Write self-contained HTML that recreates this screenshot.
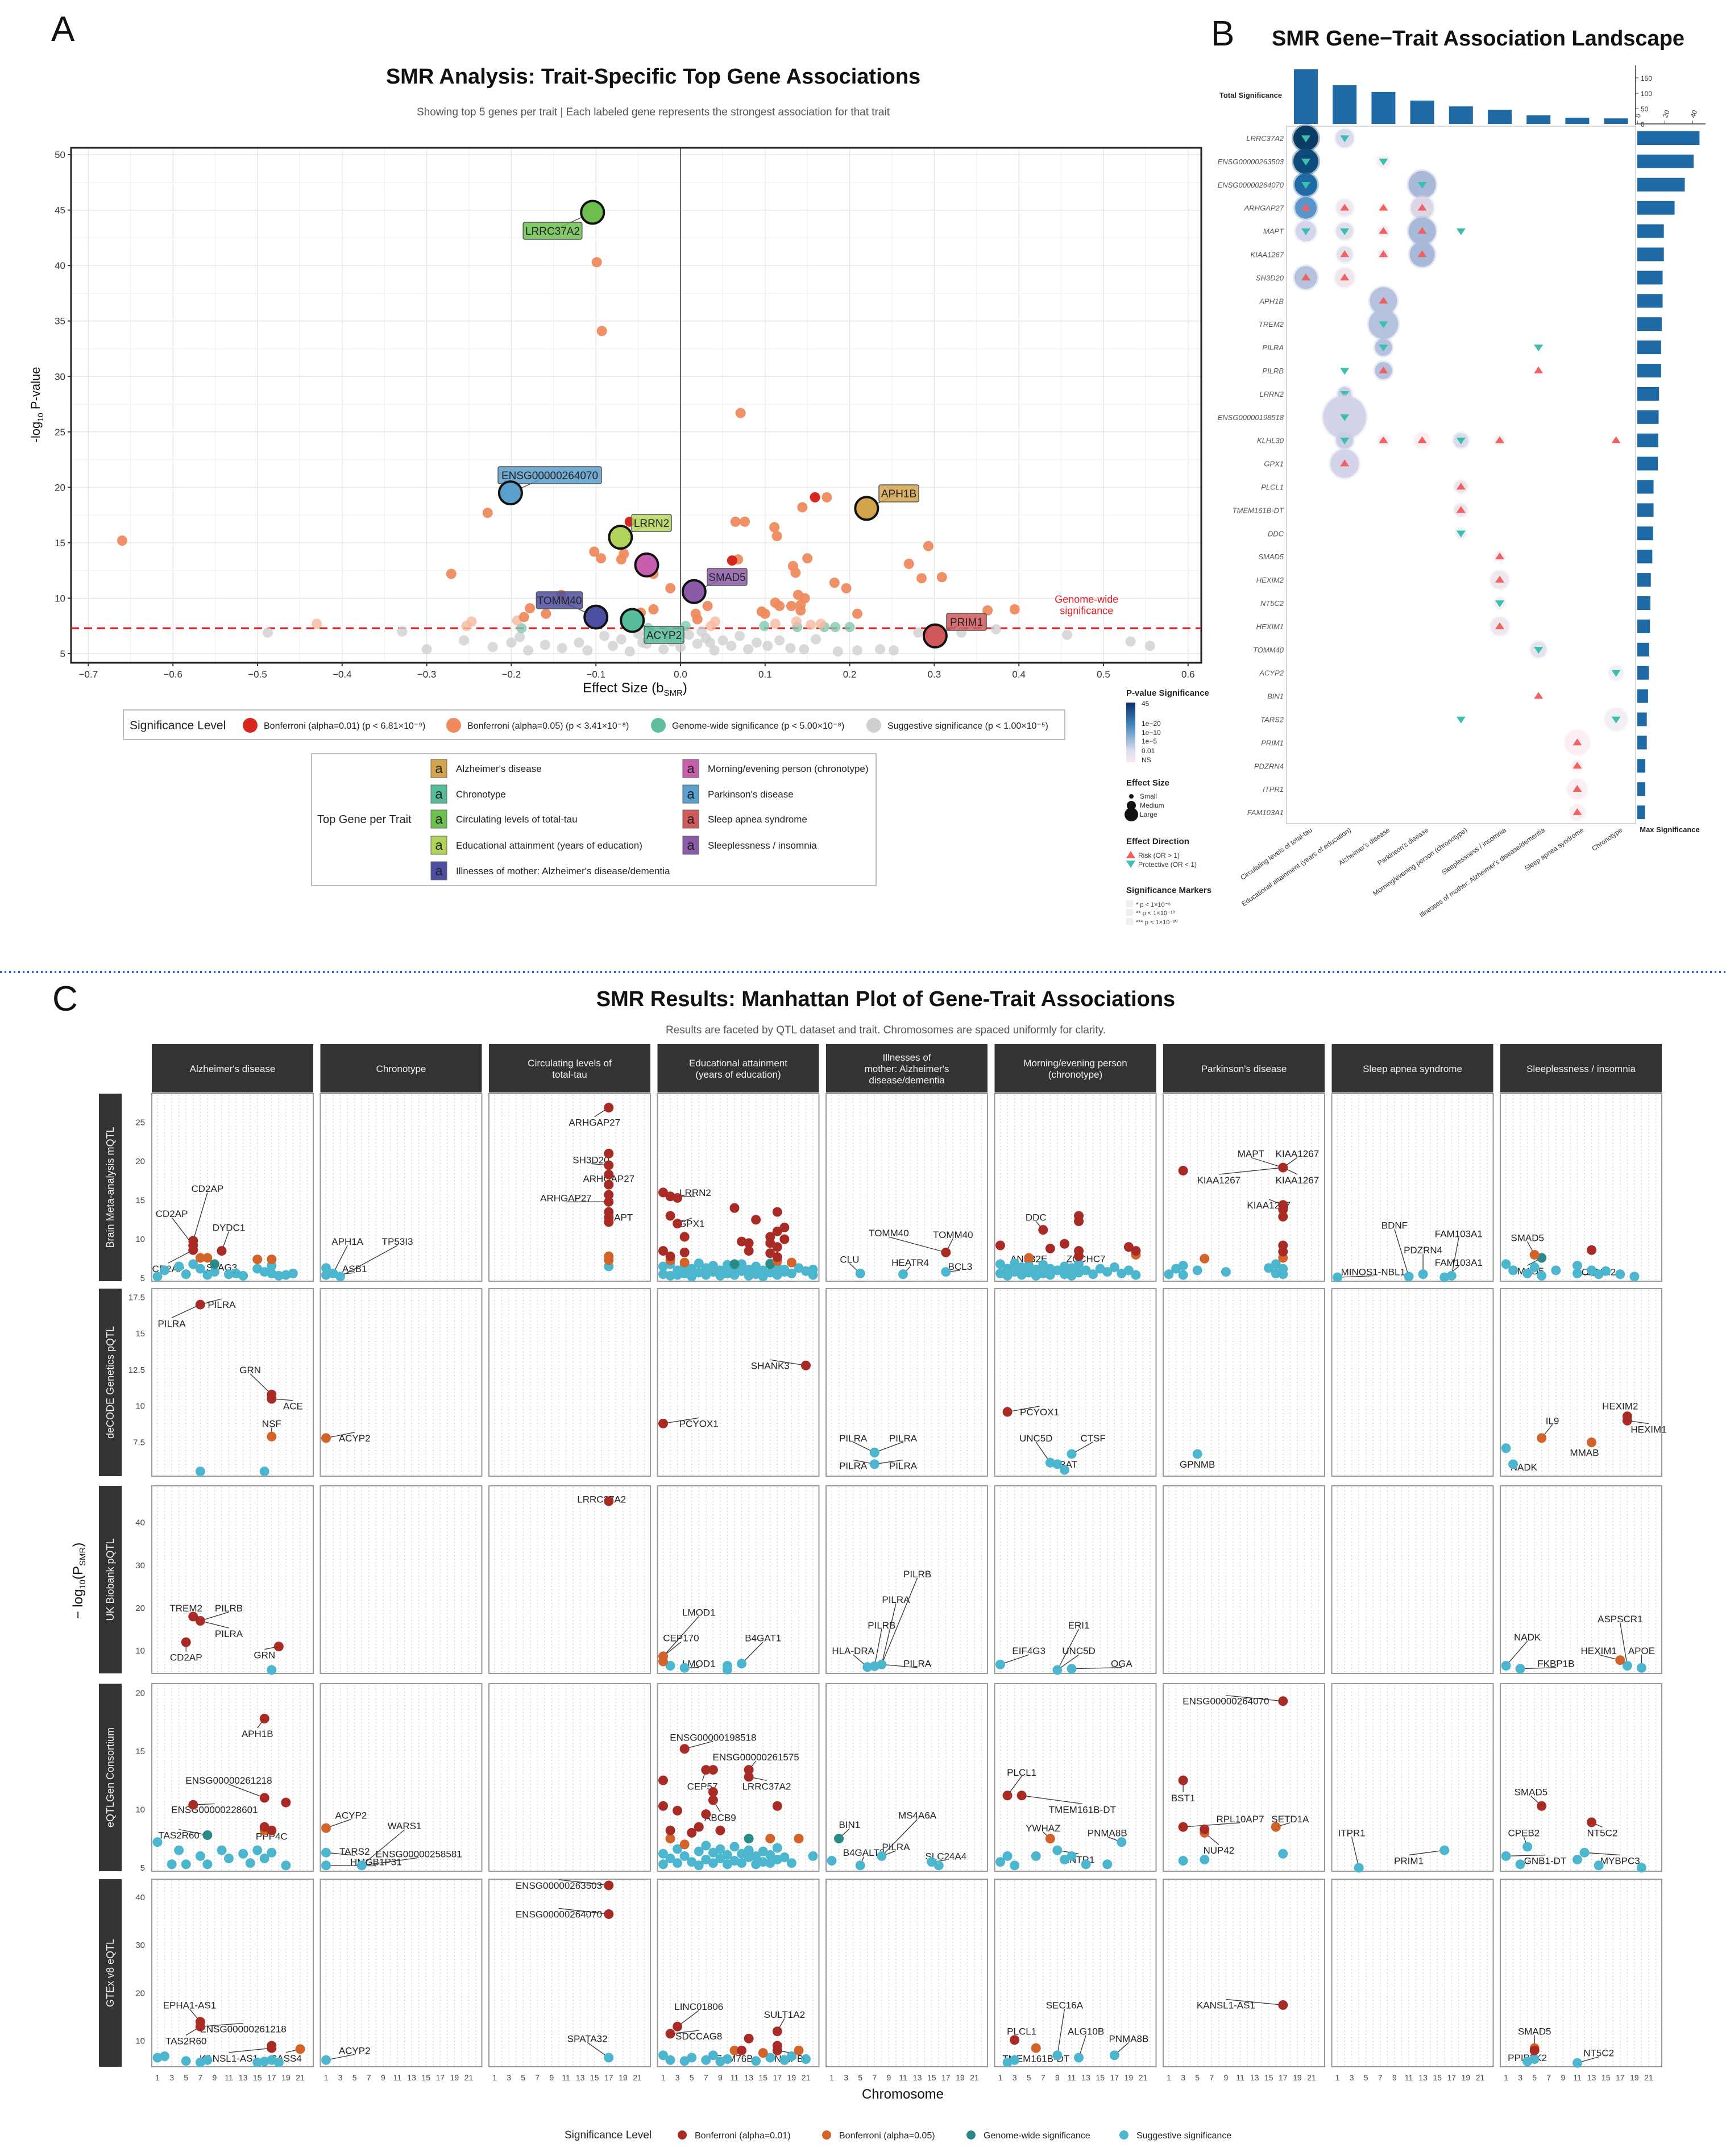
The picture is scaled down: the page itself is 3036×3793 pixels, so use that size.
<!DOCTYPE html>
<html><head><meta charset="utf-8"><title>SMR figure</title>
<style>
html,body{margin:0;padding:0;background:#fff;}
svg{display:block;font-family:"Liberation Sans",Arial,sans-serif;}
</style></head>
<body>
<svg id="chart" xmlns="http://www.w3.org/2000/svg" width="3036" height="3793" viewBox="0 0 3036 3793"></svg>
<script>
// ================= DATA =================
const volcanoPoints = [
[-0.66,15.2,1],[-0.099,40.3,1],[-0.093,34.1,1],[0.071,26.7,1],[-0.228,17.7,1],
[0.159,19.1,0],[0.173,19.1,1],[0.144,18.2,1],[0.065,16.9,1],[0.076,16.9,1],
[0.111,16.4,1],[0.114,15.6,1],[-0.06,16.9,0],[-0.271,12.2,1],[-0.102,14.2,1],
[-0.094,13.6,1],[-0.067,14.0,1],[-0.07,13.5,1],[0.061,13.4,0],[0.068,13.5,1],
[0.133,12.9,1],[0.136,12.3,1],[0.150,13.6,1],[0.293,14.7,1],[0.27,13.1,1],
[0.285,11.8,1],[0.309,11.9,1],[0.182,11.4,1],[0.196,10.9,1],[-0.012,10.9,1],
[-0.032,12.2,1],[0.139,10.3,1],[0.147,10.0,1],[0.112,9.6,1],[0.117,9.3,1],
[0.131,9.3,1],[0.142,9.4,1],[0.142,8.9,1],[0.096,8.8,1],[0.1,8.6,1],
[0.209,8.6,1],[0.363,8.9,1],[0.395,9.0,1],[0.032,9.3,1],[0.018,8.6,1],
[0.02,8.1,1],[-0.032,9.0,1],[-0.047,8.7,1],[-0.141,10.3,1],[-0.178,9.1,1],
[-0.159,8.6,1],[-0.185,8.3,1],[-0.193,8.0,4],[-0.247,7.9,4],[-0.253,7.5,4],
[-0.43,7.7,4],[0.041,7.9,4],[0.036,7.5,4],[0.112,7.7,4],[0.137,7.9,4],
[0.154,7.6,4],[0.166,7.7,4],
[-0.188,7.3,2],[0.099,7.5,2],[0.138,7.4,2],[0.17,7.4,2],[0.183,7.4,2],[0.2,7.4,2],[0.006,7.5,2],[-0.038,7.3,2],
[-0.488,6.9,3],[-0.329,7.0,3],[-0.3,5.4,3],[-0.256,6.2,3],[-0.222,5.6,3],[-0.2,6.0,3],[-0.19,6.5,3],
[-0.18,5.3,3],[-0.16,5.8,3],[-0.14,5.5,3],[-0.12,6.0,3],[-0.11,5.3,3],[-0.09,6.6,3],[-0.08,5.7,3],
[-0.07,6.3,3],[-0.06,5.2,3],[-0.05,6.8,3],[-0.04,5.9,3],[-0.03,6.4,3],[-0.02,5.4,3],[-0.01,6.1,3],
[0.0,5.6,3],[0.01,6.7,3],[0.02,5.9,3],[0.03,6.4,3],[0.04,5.3,3],[0.05,6.2,3],[0.06,5.7,3],
[0.07,6.6,3],[0.08,5.4,3],[0.09,6.0,3],[0.103,5.7,3],[0.117,6.2,3],[0.13,5.5,3],[0.146,5.4,3],
[0.16,6.3,3],[0.186,5.2,3],[0.209,5.3,3],[0.236,5.4,3],[0.252,5.3,3],[0.281,6.9,3],[0.332,6.9,3],
[0.373,7.2,3],[0.457,6.7,3],[0.532,6.1,3],[0.555,5.7,3],[-0.015,6.9,3],[0.025,7.0,3],[0.035,6.0,3],[-0.045,6.0,3]
];
const topGeneNames = ['LRRC37A2','ENSG00000264070','LRRN2','','SMAD5','TOMM40','ACYP2','APH1B','PRIM1'];
const topGeneEffect = [-0.104,-0.201,-0.071,-0.040,0.016,-0.100,-0.057,0.220,0.301];
const topGeneLogP = [44.8,19.5,15.5,13.0,10.6,8.3,8.0,18.1,6.6];
const topGeneColor = ['#6dbf4f','#5b9fcd','#b1d35a','#c85fae','#8c5aa8','#4c4fa1','#56bc9c','#d3a44e','#d0585a'];
const topGeneLabelPos = [[972,406],[967,836],[1146,920],null,[1279,1015],[984,1056],[1168,1117],[1581,868],[1700,1094]];
const xTicksA = [-0.7,-0.6,-0.5,-0.4,-0.3,-0.2,-0.1,0.0,0.1,0.2,0.3,0.4,0.5,0.6];
const yTicksA = [5,10,15,20,25,30,35,40,45,50];

const traitNamesB = ['Circulating levels of total-tau','Educational attainment (years of education)','Alzheimer\'s disease','Parkinson\'s disease','Morning/evening person (chronotype)','Sleeplessness / insomnia','Illnesses of mother: Alzheimer\'s disease/dementia','Sleep apnea syndrome','Chronotype'];
const totalSig = [178,126,104,76,57,46,28,20,18];
const geneNamesB = ['LRRC37A2','ENSG00000263503','ENSG00000264070','ARHGAP27','MAPT','KIAA1267','SH3D20','APH1B','TREM2','PILRA','PILRB','LRRN2','ENSG00000198518','KLHL30','GPX1','PLCL1','TMEM161B-DT','DDC','SMAD5','HEXIM2','NT5C2','HEXIM1','TOMM40','ACYP2','BIN1','TARS2','PRIM1','PDZRN4','ITPR1','FAM103A1'];
const maxSig = [45.2,40.9,34.5,27.1,19.3,19.3,18.4,18.4,17.8,17.3,17.3,15.8,15.5,15.2,14.9,11.8,11.8,11.5,10.9,9.8,9.5,9.2,8.6,8.3,7.8,6.9,6.9,5.8,5.8,5.5];
const cellsB = [
[0,0,22,'#0b3c66',-1],[0,1,16,'#d8dcec',-1],
[1,0,22,'#0e4a7a',-1],[1,2,11,'#f3eef3',-1],
[2,0,20,'#1f6aa5',-1],[2,3,24,'#a9b9d9',-1],
[3,0,19,'#5b94c9',1],[3,1,15,'#efe6ee',1],[3,2,8,'#fdf6f8',1],[3,3,20,'#dcd6e6',1],
[4,0,18,'#d3d6ea',-1],[4,1,15,'#dfe0ec',-1],[4,2,10,'#f6eef3',1],[4,3,24,'#a9b9d9',1],[4,4,0,'none',-1],
[5,1,14,'#e3e3ee',1],[5,2,9,'#f6eef3',1],[5,3,22,'#a9b9d9',1],
[6,0,20,'#b4c2de',1],[6,1,17,'#efe6ee',1],
[7,2,24,'#b4c2de',1],[8,2,26,'#b4c2de',-1],
[9,2,15,'#b4c2de',-1],[9,6,0,'none',-1],
[10,1,0,'none',-1],[10,2,15,'#b4c2de',1],[10,6,0,'none',1],
[11,1,12,'#c8cfe4',-1],[12,1,38,'#d3d4e9',-1],
[13,1,15,'#c8cfe4',-1],[13,2,10,'#f6eef3',1],[13,3,14,'#fbeff3',1],[13,4,13,'#d8dcec',-1],[13,5,9,'#f6eef3',1],[13,8,0,'none',1],
[14,1,25,'#d3d4e9',1],[15,4,11,'#ece3ee',1],[16,4,11,'#ece3ee',1],[17,4,10,'#eef0f5',-1],
[18,5,9,'#f6eef3',1],[19,5,16,'#efe6ee',1],[20,5,10,'#eef0f5',-1],[21,5,16,'#efe6ee',1],
[22,6,14,'#e3e3ee',-1],[23,8,13,'#eef0f5',-1],[24,6,0,'none',1],
[25,4,0,'none',-1],[25,8,20,'#f3eef3',-1],
[26,7,22,'#fbeef2',1],[27,7,10,'#fbeef2',1],[28,7,18,'#fbeef2',1],[29,7,14,'#fbeef2',1]
];

const facetTraits = ['Alzheimer\'s disease','Chronotype','Circulating levels of|total-tau','Educational attainment|(years of education)','Illnesses of|mother: Alzheimer\'s|disease/dementia','Morning/evening person|(chronotype)','Parkinson\'s disease','Sleep apnea syndrome','Sleeplessness / insomnia'];
const facetDatasets = ['Brain Meta-analysis mQTL','deCODE Genetics pQTL','UK Biobank pQTL','eQTLGen Consortium','GTEx v8 eQTL'];
const facetYDomain = [[4.6,28.7],[5.17,18.1],[4.7,48.6],[4.7,20.8],[4.6,43.8]];
const facetYTicks = [[5,10,15,20,25],[7.5,10,12.5,15,17.5],[10,20,30,40],[5,10,15,20],[10,20,30,40]];
const chromTicks = [1,3,5,7,9,11,13,15,17,19,21];
const facetPoints = [
[0,0,6,9.8,0],[0,0,6,9.2,0],[0,0,6,8.6,0],[0,0,10,8.5,0],[0,0,7,7.6,1],[0,0,8,7.6,1],[0,0,15,7.4,1],[0,0,17,7.4,1],[0,0,9,6.8,2],
[0,0,1,5.2,3],[0,0,2,6.0,3],[0,0,4,6.5,3],[0,0,5,5.5,3],[0,0,6,6.8,3],[0,0,7,6.2,3],[0,0,8,5.4,3],[0,0,9,5.8,3],[0,0,11,5.5,3],[0,0,12,5.6,3],[0,0,13,5.3,3],[0,0,15,6.2,3],[0,0,16,5.8,3],[0,0,17,6.6,3],[0,0,17,5.6,3],[0,0,18,5.3,3],[0,0,19,5.4,3],[0,0,20,5.6,3],
[0,1,1,6.3,3],[0,1,1,5.4,3],[0,1,2,5.6,3],[0,1,3,5.2,3],
[0,2,17,26.9,0],[0,2,17,21.0,0],[0,2,17,19.5,0],[0,2,17,18.3,0],[0,2,17,17.0,0],[0,2,17,15.7,0],[0,2,17,14.8,0],[0,2,17,13.5,0],[0,2,17,12.8,0],[0,2,17,12.2,0],[0,2,17,7.8,1],[0,2,17,7.3,1],[0,2,17,6.5,3],
[0,3,1,16.0,0],[0,3,2,15.5,0],[0,3,3,15.3,0],[0,3,2,13.0,0],[0,3,3,12.0,0],[0,3,4,10.3,0],[0,3,11,14.0,0],[0,3,14,12.5,0],[0,3,16,10.3,0],[0,3,16,9.5,0],[0,3,17,13.5,0],[0,3,18,11.5,0],[0,3,17,11.0,0],[0,3,18,10.0,0],[0,3,17,9.0,0],[0,3,1,8.5,0],[0,3,2,7.8,0],[0,3,4,8.3,0],[0,3,12,9.7,0],[0,3,13,9.5,0],[0,3,13,8.5,0],[0,3,16,8.2,0],[0,3,17,7.7,0],
[0,3,2,7.3,1],[0,3,4,7.0,1],[0,3,17,7.2,1],[0,3,19,7.0,1],[0,3,11,6.8,2],[0,3,16,6.8,2],
[0,3,1,6.5,3],[0,3,1,5.5,3],[0,3,2,6.8,3],[0,3,2,5.3,3],[0,3,3,6.0,3],[0,3,3,5.4,3],[0,3,4,6.6,3],[0,3,4,5.6,3],[0,3,5,6.2,3],[0,3,5,5.2,3],[0,3,6,6.9,3],[0,3,6,5.7,3],[0,3,7,6.3,3],[0,3,7,5.4,3],[0,3,8,6.6,3],[0,3,8,5.8,3],[0,3,9,6.0,3],[0,3,9,5.3,3],[0,3,10,6.7,3],[0,3,10,5.6,3],[0,3,11,6.2,3],[0,3,11,5.4,3],[0,3,12,6.8,3],[0,3,12,5.9,3],[0,3,13,6.1,3],[0,3,13,5.3,3],[0,3,14,6.5,3],[0,3,14,5.5,3],[0,3,15,6.0,3],[0,3,15,5.2,3],[0,3,16,6.9,3],[0,3,16,5.7,3],[0,3,17,6.4,3],[0,3,17,5.4,3],[0,3,18,6.1,3],[0,3,18,5.8,3],[0,3,19,5.6,3],[0,3,20,6.3,3],[0,3,21,5.9,3],[0,3,22,6.1,3],[0,3,22,5.4,3],
[0,4,17,8.3,0],[0,4,5,5.6,3],[0,4,11,5.5,3],[0,4,17,5.8,3],
[0,5,1,9.2,0],[0,5,8,8.8,0],[0,5,7,11.2,0],[0,5,12,13.0,0],[0,5,12,12.3,0],[0,5,10,9.4,0],[0,5,12,7.8,0],[0,5,12,8.5,0],[0,5,19,9.0,0],[0,5,20,8.5,0],[0,5,20,8.0,1],[0,5,5,7.6,1],
[0,5,1,6.8,3],[0,5,1,5.6,3],[0,5,2,6.2,3],[0,5,2,5.3,3],[0,5,3,6.9,3],[0,5,3,5.8,3],[0,5,4,6.4,3],[0,5,4,5.4,3],[0,5,5,6.6,3],[0,5,5,5.7,3],[0,5,6,6.1,3],[0,5,6,5.3,3],[0,5,7,6.7,3],[0,5,7,5.6,3],[0,5,8,6.2,3],[0,5,8,5.4,3],[0,5,9,6.0,3],[0,5,10,6.5,3],[0,5,10,5.5,3],[0,5,11,6.3,3],[0,5,11,5.3,3],[0,5,12,6.8,3],[0,5,12,5.7,3],[0,5,13,6.0,3],[0,5,14,5.5,3],[0,5,15,6.2,3],[0,5,16,5.8,3],[0,5,17,6.4,3],[0,5,18,5.6,3],[0,5,19,6.0,3],[0,5,20,5.4,3],
[0,6,3,18.8,0],[0,6,17,19.2,0],[0,6,17,14.4,0],[0,6,17,13.8,0],[0,6,17,12.9,0],[0,6,17,9.2,0],[0,6,17,8.4,0],[0,6,17,7.6,1],[0,6,6,7.5,1],
[0,6,1,5.5,3],[0,6,2,6.2,3],[0,6,3,6.6,3],[0,6,3,5.4,3],[0,6,5,6.0,3],[0,6,9,5.8,3],[0,6,15,6.3,3],[0,6,16,6.8,3],[0,6,16,5.6,3],[0,6,17,6.2,3],[0,6,17,5.5,3],
[0,7,1,5.1,3],[0,7,13,5.5,3],[0,7,17,5.3,3],[0,7,11,5.2,3],[0,7,16,5.1,3],
[0,8,5,8.0,1],[0,8,13,8.6,0],[0,8,6,7.6,2],[0,8,1,6.8,3],[0,8,2,6.0,3],[0,8,4,5.6,3],[0,8,5,6.4,3],[0,8,6,5.3,3],[0,8,8,6.0,3],[0,8,11,6.6,3],[0,8,11,5.6,3],[0,8,13,6.0,3],[0,8,14,5.5,3],[0,8,15,5.9,3],[0,8,17,5.5,3],[0,8,19,5.2,3],
[1,0,7,17.0,0],[1,0,17,10.8,0],[1,0,17,10.5,0],[1,0,17,7.9,1],[1,0,7,5.5,3],[1,0,16,5.5,3],
[1,1,1,7.8,1],
[1,3,21,12.8,0],[1,3,1,8.8,0],
[1,4,7,6.8,3],[1,4,7,6.0,3],
[1,5,2,9.6,0],[1,5,8,6.1,3],[1,5,10,5.6,3],[1,5,11,6.7,3],[1,5,9,6.0,3],
[1,6,5,6.7,3],
[1,8,6,7.8,1],[1,8,13,7.5,1],[1,8,18,9.3,0],[1,8,18,9.0,0],[1,8,1,7.1,3],[1,8,2,6.0,3],
[2,0,6,18,0],[2,0,7,17,0],[2,0,5,12,0],[2,0,18,11,0],[2,0,17,5.5,3],
[2,2,17,45,0],
[2,3,1,8.7,1],[2,3,1,7.5,1],[2,3,2,6.5,3],[2,3,4,6.0,3],[2,3,10,6.5,3],[2,3,10,5.6,3],[2,3,12,7.0,3],
[2,4,6,6.2,3],[2,4,7,6.4,3],[2,4,8,6.8,3],
[2,5,1,6.8,3],[2,5,9,5.5,3],[2,5,11,5.8,3],
[2,8,17,7.8,1],[2,8,1,6.5,3],[2,8,3,5.8,3],[2,8,20,6.0,3],[2,8,18,6.5,3],
[3,0,16,17.8,0],[3,0,16,11.0,0],[3,0,19,10.6,0],[3,0,6,10.4,0],[3,0,16,8.5,0],[3,0,17,8.2,0],[3,0,16,8.2,1],[3,0,8,7.8,2],
[3,0,1,7.2,3],[3,0,4,6.5,3],[3,0,3,5.3,3],[3,0,5,5.3,3],[3,0,7,6.0,3],[3,0,8,5.3,3],[3,0,10,6.5,3],[3,0,11,5.8,3],[3,0,13,6.2,3],[3,0,15,6.5,3],[3,0,16,5.8,3],[3,0,17,6.3,3],[3,0,19,5.2,3],[3,0,14,5.4,3],
[3,1,1,8.4,1],[3,1,1,6.3,3],[3,1,1,5.2,3],[3,1,6,5.2,3],
[3,3,1,12.5,0],[3,3,1,10.3,0],[3,3,4,15.2,0],[3,3,7,13.4,0],[3,3,8,13.4,0],[3,3,13,13.4,0],[3,3,13,12.8,0],[3,3,8,10.8,0],[3,3,8,11.5,0],[3,3,7,9.6,0],[3,3,3,9.9,0],[3,3,9,8.2,0],[3,3,17,10.3,0],[3,3,2,8.2,0],[3,3,6,8.5,0],[3,3,5,8.0,0],
[3,3,2,7.5,1],[3,3,4,7.0,1],[3,3,16,7.5,1],[3,3,20,7.5,1],[3,3,13,7.5,2],
[3,3,1,6.2,3],[3,3,1,5.3,3],[3,3,2,5.8,3],[3,3,3,6.6,3],[3,3,3,5.4,3],[3,3,4,6.0,3],[3,3,5,5.5,3],[3,3,6,6.4,3],[3,3,6,5.2,3],[3,3,7,6.9,3],[3,3,7,5.7,3],[3,3,8,6.3,3],[3,3,8,5.4,3],[3,3,9,6.6,3],[3,3,9,5.8,3],[3,3,10,6.1,3],[3,3,10,5.3,3],[3,3,11,6.8,3],[3,3,11,5.6,3],[3,3,12,6.2,3],[3,3,12,5.4,3],[3,3,13,6.5,3],[3,3,13,5.9,3],[3,3,14,6.0,3],[3,3,14,5.3,3],[3,3,15,6.4,3],[3,3,15,5.5,3],[3,3,16,6.1,3],[3,3,16,5.4,3],[3,3,17,6.7,3],[3,3,17,5.7,3],[3,3,18,5.9,3],[3,3,19,5.4,3],[3,3,22,6.0,3],
[3,4,2,7.5,2],[3,4,1,5.6,3],[3,4,5,5.2,3],[3,4,8,6.0,3],[3,4,15,5.5,3],[3,4,16,5.2,3],
[3,5,2,11.2,0],[3,5,4,11.2,0],[3,5,8,7.5,1],[3,5,1,5.5,3],[3,5,2,6.0,3],[3,5,3,5.2,3],[3,5,6,6.0,3],[3,5,9,6.5,3],[3,5,10,5.7,3],[3,5,11,6.0,3],[3,5,13,5.3,3],[3,5,16,5.3,3],[3,5,18,7.2,3],
[3,6,3,12.5,0],[3,6,17,19.3,0],[3,6,3,8.5,0],[3,6,6,8.3,0],[3,6,6,8.0,1],[3,6,16,8.5,1],[3,6,3,5.6,3],[3,6,6,5.7,3],[3,6,17,6.2,3],
[3,7,4,5.0,3],[3,7,16,6.5,3],
[3,8,6,10.3,0],[3,8,13,8.9,0],[3,8,1,6.0,3],[3,8,4,6.8,3],[3,8,3,5.3,3],[3,8,11,5.7,3],[3,8,12,6.3,3],[3,8,14,5.2,3],[3,8,20,5.0,3],
[4,0,7,14.0,0],[4,0,7,13.0,0],[4,0,17,9.0,0],[4,0,17,8.5,0],[4,0,21,8.3,1],[4,0,1,6.5,3],[4,0,2,6.8,3],[4,0,5,5.8,3],[4,0,7,5.5,3],[4,0,8,6.0,3],[4,0,15,5.5,3],[4,0,16,5.7,3],[4,0,17,6.0,3],[4,0,18,5.5,3],
[4,1,1,6.0,3],
[4,2,17,42.5,0],[4,2,17,36.5,0],[4,2,17,6.5,3],
[4,3,3,13.0,0],[4,3,2,11.5,0],[4,3,13,10.5,0],[4,3,17,12.0,0],[4,3,17,9.0,0],[4,3,12,8.0,0],[4,3,17,8.0,0],[4,3,20,8.0,1],[4,3,11,8.0,1],[4,3,15,7.5,1],
[4,3,1,7.0,3],[4,3,2,6.0,3],[4,3,4,5.8,3],[4,3,5,6.5,3],[4,3,7,6.0,3],[4,3,8,7.0,3],[4,3,9,5.7,3],[4,3,10,6.2,3],[4,3,14,5.8,3],[4,3,16,6.5,3],[4,3,18,6.0,3],[4,3,19,6.8,3],[4,3,21,6.2,3],
[4,5,3,10.2,0],[4,5,6,8.5,1],[4,5,2,5.5,3],[4,5,3,6.0,3],[4,5,9,7.0,3],[4,5,12,6.5,3],[4,5,17,7.0,3],
[4,6,17,17.5,0],
[4,8,5,8.5,1],[4,8,5,8.0,0],[4,8,4,5.7,3],[4,8,5,6.2,3],[4,8,11,5.4,3]
];
const facetLabels = [
[0,0,'CD2AP',8,16.5,6,9.8],[0,0,'CD2AP',3,13.3,6,9.2],[0,0,'DYDC1',11,11.5,10,8.5],[0,0,'CD2AP',2.5,6.2,6,8.6],[0,0,'STAG3',10,6.4,9,6.8],
[0,1,'APH1A',4,9.7,2,5.6],[0,1,'TP53I3',11,9.7,3,5.2],[0,1,'ASB1',5,6.2,2,5.4],
[0,2,'ARHGAP27',15,25.0,17,26.9],[0,2,'SH3D20',14.5,20.2,17,19.5],[0,2,'ARHGAP27',17,17.8,17,17.0],[0,2,'ARHGAP27',11,15.3,17,14.8],[0,2,'MAPT',18.5,12.8,17,12.8],
[0,3,'LRRN2',5.5,16.0,2,15.5],[0,3,'GPX1',5,12.0,3,12.0],
[0,4,'TOMM40',9,10.8,17,8.3],[0,4,'TOMM40',18,10.6,17,8.3],[0,4,'CLU',3.5,7.4,5,5.6],[0,4,'HEATR4',12,7.0,11,5.5],[0,4,'BCL3',19,6.5,17,5.8],
[0,5,'DDC',6,12.8,7,11.2],[0,5,'ANP32E',5,7.5,5,7.6],[0,5,'ZCCHC7',13,7.5,12,7.8],
[0,6,'MAPT',12.5,21.0,17,19.2],[0,6,'KIAA1267',19,21.0,17,19.2],[0,6,'KIAA1267',8,17.6,17,19.2],[0,6,'KIAA1267',19,17.6,17,19.2],[0,6,'KIAA1267',15,14.4,17,14.4],
[0,7,'BDNF',9,11.8,11,5.2],[0,7,'PDZRN4',13,8.6,13,5.5],[0,7,'FAM103A1',18,10.7,17,5.3],[0,7,'FAM103A1',18,7.0,16,5.1],[0,7,'MINOS1-NBL1',6,5.8,1,5.1],
[0,8,'SMAD5',4,10.2,5,8.0],[0,8,'SMAD5',4,5.9,6,7.6],[0,8,'CNNM2',14,5.8,11,5.6],
[1,0,'PILRA',10,17.0,7,17.0],[1,0,'PILRA',3,15.7,7,17.0],[1,0,'GRN',14,12.5,17,10.8],[1,0,'ACE',20,10.0,17,10.5],[1,0,'NSF',17,8.8,17,7.9],
[1,1,'ACYP2',5,7.8,1,7.8],
[1,3,'SHANK3',16,12.8,21,12.8],[1,3,'PCYOX1',6,8.8,1,8.8],
[1,4,'PILRA',4,7.8,7,6.8],[1,4,'PILRA',11,7.8,7,6.8],[1,4,'PILRA',4,5.9,7,6.0],[1,4,'PILRA',11,5.9,7,6.0],
[1,5,'PCYOX1',6.5,9.6,2,9.6],[1,5,'UNC5D',6,7.8,8,6.1],[1,5,'CTSF',14,7.8,11,6.7],[1,5,'CRAT',10,6.0,10,5.6],
[1,6,'GPNMB',5,6.0,5,6.7],
[1,8,'IL9',7.5,9.0,6,7.8],[1,8,'HEXIM2',17,10.0,18,9.3],[1,8,'HEXIM1',21,8.4,18,9.0],[1,8,'MMAB',12,6.8,13,7.5],[1,8,'NADK',3.5,5.8,2,6.0],
[2,0,'TREM2',5,20.0,6,18],[2,0,'PILRB',11,20.0,7,17],[2,0,'PILRA',11,14.0,7,17],[2,0,'CD2AP',5,8.5,5,12],[2,0,'GRN',16,9.0,18,11],
[2,2,'LRRC37A2',16,45.5,17,45],
[2,3,'LMOD1',6,19.0,1,8.7],[2,3,'CEP170',3.5,13.0,1,8.7],[2,3,'B4GAT1',15,13.0,12,7.0],[2,3,'LMOD1',6,7.0,4,6.0],
[2,4,'PILRB',13,28.0,8,6.8],[2,4,'PILRA',10,22.0,8,6.8],[2,4,'PILRB',8,16.0,7,6.4],[2,4,'HLA-DRA',4,10.0,6,6.2],[2,4,'PILRA',13,7.0,8,6.8],
[2,5,'EIF4G3',5,10.0,1,6.8],[2,5,'ERI1',12,16.0,9,5.5],[2,5,'UNC5D',12,10.0,9,5.5],[2,5,'OGA',18,7.0,11,5.8],
[2,8,'NADK',4,13.2,1,6.5],[2,8,'ASPSCR1',17,17.5,18,6.5],[2,8,'HEXIM1',14,10.0,17,7.8],[2,8,'APOE',20,10.0,20,6.0],[2,8,'FKBP1B',8,7.0,3,5.8],
[3,0,'APH1B',15,16.5,16,17.8],[3,0,'ENSG00000261218',11,12.5,16,11.0],[3,0,'ENSG00000228601',9,10.0,6,10.4],[3,0,'TAS2R60',4,7.8,8,7.8],[3,0,'PPP4C',17,7.7,17,8.2],
[3,1,'ACYP2',4.5,9.5,1,8.4],[3,1,'TARS2',5,6.4,1,6.3],[3,1,'HMGB1P31',8,5.5,1,5.2],[3,1,'WARS1',12,8.6,6,5.2],[3,1,'ENSG00000258581',14,6.2,6,5.2],
[3,3,'ENSG00000198518',8,16.2,4,15.2],[3,3,'ENSG00000261575',14,14.5,13,13.4],[3,3,'CEP57',6.5,12.0,7,13.4],[3,3,'LRRC37A2',15.5,12.0,13,12.8],[3,3,'ABCB9',9,9.3,8,10.8],
[3,4,'BIN1',3.5,8.7,2,7.5],[3,4,'B4GALT3',5.5,6.3,5,5.2],[3,4,'PILRA',10,6.8,8,6.0],[3,4,'MS4A6A',13,9.5,8,6.0],[3,4,'SLC24A4',17,6.0,15,5.5],
[3,5,'PLCL1',4,13.2,2,11.2],[3,5,'TMEM161B-DT',12.5,10.0,4,11.2],[3,5,'YWHAZ',7,8.4,8,7.5],[3,5,'PNMA8B',16,8.0,18,7.2],[3,5,'ENTR1',12,5.7,9,6.5],
[3,6,'ENSG00000264070',9,19.3,17,19.3],[3,6,'BST1',3,11.0,3,12.5],[3,6,'RPL10AP7',11,9.2,3,8.5],[3,6,'SETD1A',18,9.2,16,8.5],[3,6,'NUP42',8,6.5,6,8.0],
[3,7,'ITPR1',3,8.0,4,5.0],[3,7,'PRIM1',11,5.6,16,6.5],
[3,8,'SMAD5',4.5,11.5,6,10.3],[3,8,'CPEB2',3.5,8.0,4,6.8],[3,8,'NT5C2',14.5,8.0,13,8.9],[3,8,'GNB1-DT',6.5,5.6,1,6.0],[3,8,'MYBPC3',17,5.6,12,6.3],
[4,0,'EPHA1-AS1',5.5,17.5,7,14.0],[4,0,'ENSG00000261218',13,12.5,7,13.0],[4,0,'TAS2R60',5,10.0,7,13.0],[4,0,'KANSL1-AS1',11,6.4,17,8.5],[4,0,'CASS4',19,6.4,21,8.3],
[4,1,'ACYP2',5,8.0,1,6.0],
[4,2,'ENSG00000263503',10,42.5,17,42.5],[4,2,'ENSG00000264070',10,36.5,17,36.5],[4,2,'SPATA32',14,10.5,17,6.5],
[4,3,'LINC01806',6,17.2,3,13.0],[4,3,'SULT1A2',18,15.5,17,12.0],[4,3,'SDCCAG8',6,11.0,2,11.5],[4,3,'FAM76B',11,6.3,11,8.0],[4,3,'NPIPB7',19,6.3,17,8.0],
[4,5,'SEC16A',10,17.5,9,7.0],[4,5,'PLCL1',4,12.0,3,10.2],[4,5,'ALG10B',13,12.0,12,6.5],[4,5,'PNMA8B',19,10.5,17,7.0],[4,5,'TMEM161B-DT',6,6.3,6,8.5],
[4,6,'KANSL1-AS1',9,17.5,17,17.5],
[4,8,'SMAD5',5,12.0,5,8.5],[4,8,'PPIP5K2',4,6.5,5,8.0],[4,8,'NT5C2',14,7.5,11,5.4]
];

// ================= DRAWING =================
const NS='http://www.w3.org/2000/svg';
const svg=document.getElementById('chart');
function mk(tag,attrs,parent){const e=document.createElementNS(NS,tag);for(const k in attrs)e.setAttribute(k,attrs[k]);(parent||svg).appendChild(e);return e;}
function tx(str,x,y,attrs,parent){const e=mk('text',Object.assign({x:x,y:y},attrs||{}),parent);e.textContent=str;return e;}
function grp(name,parent){const g=mk('g',{},parent);return g;}

mk('rect',{x:0,y:0,width:3036,height:3793,fill:'#fff'});

// ---------- PANEL A ----------
const gA=grp('panel-a-volcano');
let t;
t=tx('A',90,72,{'font-size':62,fill:'#111'},gA);

t=tx('SMR Analysis: Trait-Specific Top Gene Associations',1149,147,{'font-size':38,'font-weight':'bold','text-anchor':'middle',fill:'#111'},gA);

t=tx('Showing top 5 genes per trait | Each labeled gene represents the strongest association for that trait',1149,203,{'font-size':19,'text-anchor':'middle',fill:'#555'},gA);


const AX0=125,AX1=2113,AY0=260,AY1=1166;
const xA=v=>1197+v*1488;
const yA=v=>1150-(v-5)*19.51;
mk('rect',{x:AX0,y:AY0,width:AX1-AX0,height:AY1-AY0,fill:'#fff'},gA);
const gridA=grp('panel-a-grid',gA);
for(let v=-0.7;v<=0.61;v+=0.05){const x=xA(v);mk('line',{x1:x,x2:x,y1:AY0,y2:AY1,stroke:Math.abs(Math.round(v*20))%2===0?'#e6e6e6':'#f3f3f3','stroke-width':1.5},gridA);}
for(let v=5;v<=50;v+=2.5){const y=yA(v);mk('line',{x1:AX0,x2:AX1,y1:y,y2:y,stroke:(v%5===0)?'#e6e6e6':'#f3f3f3','stroke-width':1.5},gridA);}
mk('line',{x1:xA(0),x2:xA(0),y1:AY0,y2:AY1,stroke:'#666','stroke-width':2},gA);
mk('rect',{x:AX0,y:AY0,width:AX1-AX0,height:AY1-AY0,fill:'none',stroke:'#222','stroke-width':3},gA);
const xtA=grp('panel-a-x-ticks',gA);
xTicksA.forEach(v=>{mk('line',{x1:xA(v),x2:xA(v),y1:AY1,y2:AY1+6,stroke:'#333','stroke-width':2},xtA);tx(v.toFixed(1).replace('-','−'),xA(v),AY1+26,{'font-size':17,'text-anchor':'middle',fill:'#333'},xtA);});
const ytA=grp('panel-a-y-ticks',gA);
yTicksA.forEach(v=>{mk('line',{x1:AX0-6,x2:AX0,y1:yA(v),y2:yA(v),stroke:'#333','stroke-width':2},ytA);tx(String(v),AX0-10,yA(v)+6,{'font-size':17,'text-anchor':'end',fill:'#333'},ytA);});
const xat=mk('text',{x:1117,y:1218,'font-size':24,'text-anchor':'middle',fill:'#111'},gA);

xat.innerHTML='Effect Size (b<tspan font-size="15" dy="6">SMR</tspan><tspan dy="-6">)</tspan>';
const yt2=mk('text',{'font-size':22,fill:'#111','text-anchor':'middle',transform:'translate(70,712) rotate(-90)'},gA);

yt2.innerHTML='-log<tspan font-size="14" dy="6">10</tspan><tspan dy="-6"> P-value</tspan>';
const thr=mk('line',{x1:AX0,x2:AX1,y1:yA(7.3),y2:yA(7.3),stroke:'#e31a1c','stroke-width':3,'stroke-dasharray':'14,9'},gA);

tx('Genome-wide',xA(0.48),yA(9.6),{'font-size':18,fill:'#e31a1c','text-anchor':'middle'},gA);
tx('significance',xA(0.48),yA(8.55),{'font-size':18,fill:'#e31a1c','text-anchor':'middle'},gA);
const colA=['#d7261e','#ee8a5e','#7fcbb0','#cfcfcf','#f6b9a0'];
const opA=[1,0.95,0.8,0.8,0.8];
const ptsA=grp('panel-a-points',gA);
[3,2,4,1,0].forEach(lv=>{volcanoPoints.forEach(p=>{if(p[2]!==lv)return;const c=mk('circle',{cx:xA(p[0]),cy:yA(p[1]),r:9,fill:colA[lv],'fill-opacity':opA[lv]},ptsA);});});
const topA=grp('panel-a-top-genes',gA);
topGeneNames.forEach((n,i)=>{
  const cx=xA(topGeneEffect[i]),cy=yA(topGeneLogP[i]);
  const lp=topGeneLabelPos[i];
  if(lp){
    mk('line',{x1:cx,y1:cy,x2:lp[0],y2:lp[1],stroke:'#555','stroke-width':1.5},topA);
    const w=n.length*11.2+14;
    const r=mk('rect',{x:lp[0]-w/2,y:lp[1]-15,width:w,height:30,rx:3,fill:topGeneColor[i],'fill-opacity':0.85,stroke:'#555','stroke-width':1.5},topA);
    
    tx(n,lp[0],lp[1]+7,{'font-size':19,'text-anchor':'middle',fill:'#222'},topA);
  }
  const c=mk('circle',{cx:cx,cy:cy,r:20,fill:topGeneColor[i],stroke:'#111','stroke-width':4},topA);
  
});
const lgA=grp('panel-a-significance-legend',gA);
mk('rect',{x:217,y:1249,width:1656,height:52,fill:'#fff',stroke:'#bbb','stroke-width':2},lgA);
tx('Significance Level',228,1283,{'font-size':21,fill:'#222'},lgA);
const sigItems=[[440,'#d7261e','Bonferroni (alpha=0.01) (p < 6.81×10⁻⁹)'],[798,'#ee8a5e','Bonferroni (alpha=0.05) (p < 3.41×10⁻⁸)'],[1158,'#5fbf9c','Genome-wide significance (p < 5.00×10⁻⁸)'],[1537,'#cfcfcf','Suggestive significance (p < 1.00×10⁻⁵)']];
sigItems.forEach(s=>{const c=mk('circle',{cx:s[0],cy:1276,r:13,fill:s[1]},lgA);tx(s[2],s[0]+24,1282,{'font-size':16,fill:'#222'},lgA);});
const lgT=grp('panel-a-trait-legend',gA);
mk('rect',{x:548,y:1326,width:993,height:232,fill:'#fff',stroke:'#bbb','stroke-width':2},lgT);
tx('Top Gene per Trait',558,1448,{'font-size':20,fill:'#222'},lgT);
const traitLeg=[[772,1352,'#d3a44e','Alzheimer\'s disease'],[772,1397,'#56bc9c','Chronotype'],[772,1441,'#6dbf4f','Circulating levels of total-tau'],[772,1487,'#b1d35a','Educational attainment (years of education)'],[772,1532,'#4c4fa1','Illnesses of mother: Alzheimer\'s disease/dementia'],[1215,1352,'#c85fae','Morning/evening person (chronotype)'],[1215,1397,'#5b9fcd','Parkinson\'s disease'],[1215,1441,'#d0585a','Sleep apnea syndrome'],[1215,1487,'#8c5aa8','Sleeplessness / insomnia']];
traitLeg.forEach(l=>{const r=mk('rect',{x:l[0]-14,y:l[1]-16,width:28,height:32,fill:l[2],stroke:'#666','stroke-width':1},lgT);tx('a',l[0],l[1]+8,{'font-size':24,'text-anchor':'middle',fill:'#222'},lgT);tx(l[3],l[0]+30,l[1]+6,{'font-size':17,fill:'#222'},lgT);});

// ---------- PANEL B ----------
const gB=grp('panel-b-heatmap');
t=tx('B',2130,80,{'font-size':62,fill:'#111'},gB);
t=tx('SMR Gene−Trait Association Landscape',2600,80,{'font-size':38,'font-weight':'bold','text-anchor':'middle',fill:'#111'},gB);

const colXB=i=>2297+i*68.2;
const rowYB=i=>243+i*40.9;
const barTopY=v=>218-v*0.54;
const gTop=grp('total-significance-bars',gB);
totalSig.forEach((v,i)=>{const r=mk('rect',{x:colXB(i)-21,y:barTopY(v),width:42,height:218-barTopY(v),fill:'#1f6aa5'},gTop);});
tx('Total Significance',2200,172,{'font-size':13,'font-weight':'bold','text-anchor':'middle',fill:'#222'},gB);
mk('line',{x1:2877,x2:2877,y1:115,y2:220,stroke:'#333','stroke-width':1.5},gB);
[0,50,100,150].forEach(v=>{mk('line',{x1:2877,x2:2882,y1:barTopY(v),y2:barTopY(v),stroke:'#333'},gB);tx(String(v),2886,barTopY(v)+5,{'font-size':12,fill:'#333'},gB);});
mk('rect',{x:2263,y:222,width:614,height:1227,fill:'#fff',stroke:'#ccc','stroke-width':1.5},gB);
const gRows=grp('gene-row-labels',gB);
geneNamesB.forEach((n,i)=>{tx(n,2258,rowYB(i)+5,{'font-size':13,'font-style':'italic','text-anchor':'end',fill:'#555'},gRows);});
const gCells=grp('heatmap-cells',gB);
cellsB.forEach(c=>{
  const cx=colXB(c[1]),cy=rowYB(c[0]);
  if(c[2]>0){const h=mk('circle',{cx:cx,cy:cy,r:c[2]+3,fill:c[3],'fill-opacity':0.35},gCells);
    const cc=mk('circle',{cx:cx,cy:cy,r:c[2],fill:c[3]},gCells);}
  const s=8;
  const pts=c[4]>0?`${cx-s},${cy+s*0.6} ${cx+s},${cy+s*0.6} ${cx},${cy-s*0.9}`:`${cx-s},${cy-s*0.6} ${cx+s},${cy-s*0.6} ${cx},${cy+s*0.9}`;
  const tr=mk('polygon',{points:pts,fill:c[4]>0?'#f06262':'#3cbfb0'},gCells);
});
const gRB=grp('max-significance-bars',gB);
maxSig.forEach((v,i)=>{const r=mk('rect',{x:2880,y:rowYB(i)-12,width:v*2.42,height:24,fill:'#1f6aa5'},gRB);});
mk('line',{x1:2880,x2:3000,y1:218,y2:218,stroke:'#333','stroke-width':1.5},gB);
[0,20,40].forEach(v=>{const x=2880+v*2.42;mk('line',{x1:x,x2:x,y1:212,y2:218,stroke:'#333'},gB);tx(String(v),0,0,{'font-size':12,fill:'#333',transform:`translate(${x+4},208) rotate(-70)`},gB);});
tx('Max Significance',2937,1464,{'font-size':13,'font-weight':'bold','text-anchor':'middle',fill:'#222'},gB);
const gCL=grp('trait-column-labels',gB);
traitNamesB.forEach((n,i)=>{tx(n,0,0,{'font-size':12,'text-anchor':'end',fill:'#333',transform:`translate(${colXB(i)+12},1462) rotate(-35)`},gCL);});
const gLB=grp('panel-b-legends',gB);
tx('P-value Significance',1981,1224,{'font-size':15,'font-weight':'bold',fill:'#222'},gLB);
const defs=mk('defs',{});
const lg=mk('linearGradient',{id:'pgrad',x1:0,y1:0,x2:0,y2:1},defs);
mk('stop',{offset:'0','stop-color':'#08306b'},lg);mk('stop',{offset:'0.4','stop-color':'#4a8bc2'},lg);mk('stop',{offset:'0.8','stop-color':'#dcdcee'},lg);mk('stop',{offset:'1','stop-color':'#fbe8ee'},lg);
mk('rect',{x:1981,y:1236,width:16,height:105,fill:'url(#pgrad)'},gLB);
[['45',1238],['1e−20',1273],['1e−10',1289],['1e−5',1304],['0.01',1321],['NS',1337]].forEach(a=>tx(a[0],2008,a[1]+4,{'font-size':12,fill:'#333'},gLB));
tx('Effect Size',1981,1382,{'font-size':15,'font-weight':'bold',fill:'#222'},gLB);
[[1401,4,'Small'],[1417,8,'Medium'],[1433,12,'Large']].forEach(a=>{mk('circle',{cx:1990,cy:a[0],r:a[1],fill:'#111'},gLB);tx(a[2],2005,a[0]+4,{'font-size':12,fill:'#333'},gLB);});
tx('Effect Direction',1981,1485,{'font-size':15,'font-weight':'bold',fill:'#222'},gLB);
mk('polygon',{points:'1981,1510 1997,1510 1989,1497',fill:'#f06262'},gLB);tx('Risk (OR > 1)',2002,1509,{'font-size':12,fill:'#333'},gLB);
mk('polygon',{points:'1981,1514 1997,1514 1989,1527',fill:'#3cbfb0'},gLB);tx('Protective (OR < 1)',2002,1525,{'font-size':12,fill:'#333'},gLB);
tx('Significance Markers',1981,1571,{'font-size':15,'font-weight':'bold',fill:'#222'},gLB);
[[1591,'* p < 1×10⁻⁵'],[1606,'** p < 1×10⁻¹⁰'],[1622,'*** p < 1×10⁻²⁰']].forEach(a=>{mk('rect',{x:1981,y:a[0]-7,width:12,height:12,fill:'#eee'},gLB);tx(a[1],1998,a[0]+4,{'font-size':11,fill:'#333'},gLB);});

const sep=mk('line',{x1:0,x2:3036,y1:1710,y2:1710,stroke:'#2b5fd9','stroke-width':4,'stroke-dasharray':'3,5'});


// ---------- PANEL C ----------
const gC=grp('panel-c-manhattan');
t=tx('C',92,1778,{'font-size':62,fill:'#111'},gC);
t=tx('SMR Results: Manhattan Plot of Gene-Trait Associations',1558,1770,{'font-size':38,'font-weight':'bold','text-anchor':'middle',fill:'#111'},gC);

t=tx('Results are faceted by QTL dataset and trait. Chromosomes are spaced uniformly for clarity.',1558,1818,{'font-size':19,'text-anchor':'middle',fill:'#555'},gC);

const FX0=c=>267+c*296.5, FW=284;
const FY0=[1924,2267,2614,2962,3306], FH=330;
const fx=(c,chr)=>FX0(c)+10+(chr-1)*12.55;
const fy=(r,v)=>{const d=facetYDomain[r];return FY0[r]+FH-(v-d[0])/(d[1]-d[0])*FH;};
const colC=['#a92b25','#d2642b','#2b8a86','#4db6cf'];
facetTraits.forEach((n,c)=>{
  const s=mk('rect',{x:FX0(c),y:1837,width:FW,height:85,fill:'#333'},gC);
  const lines=n.split('|');const y0=1880-(lines.length-1)*10;
  lines.forEach((l,k)=>tx(l,FX0(c)+FW/2,y0+k*20+6,{'font-size':17,'text-anchor':'middle',fill:'#f2f2f2'},gC));
});
facetDatasets.forEach((n,r)=>{
  const s=mk('rect',{x:174,y:FY0[r],width:40,height:FH,fill:'#333'},gC);
  tx(n,0,0,{'font-size':18,'text-anchor':'middle',fill:'#f2f2f2',transform:`translate(200,${FY0[r]+FH/2}) rotate(-90)`},gC);
  facetYTicks[r].forEach(v=>tx(String(v),255,fy(r,v)+5,{'font-size':15,'text-anchor':'end',fill:'#444'},gC));
  for(let c=0;c<9;c++){
    const pg=grp('facet-panel',gC);
    mk('rect',{x:FX0(c),y:FY0[r],width:FW,height:FH,fill:'#fff',stroke:'#999','stroke-width':2},pg);
    for(let chr=1;chr<=22;chr++){mk('line',{x1:fx(c,chr),x2:fx(c,chr),y1:FY0[r]+2,y2:FY0[r]+FH-2,stroke:'#d6d6d6','stroke-width':1.5,'stroke-dasharray':'2,4'},pg);}
  }
});
for(let c=0;c<9;c++){chromTicks.forEach(ch=>tx(String(ch),fx(c,ch),3660,{'font-size':14,'text-anchor':'middle',fill:'#444'},gC));}
t=tx('Chromosome',1588,3692,{'font-size':24,'text-anchor':'middle',fill:'#111'},gC);
const yc=mk('text',{'font-size':24,fill:'#111','text-anchor':'middle',transform:'translate(145,2781) rotate(-90)'},gC);

yc.innerHTML='− log<tspan font-size="15" dy="5">10</tspan><tspan dy="-5">(P</tspan><tspan font-size="15" dy="5">SMR</tspan><tspan dy="-5">)</tspan>';
const gLab=grp('facet-gene-labels',gC);
facetLabels.forEach(l=>{
  const lx=fx(l[1],l[3]),ly=fy(l[0],l[4]),ax=fx(l[1],l[5]),ay=fy(l[0],l[6]);
  if(Math.hypot(lx-ax,ly-ay)>22) mk('line',{x1:lx,y1:ly+(ay>ly?7:-10),x2:ax,y2:ay,stroke:'#333','stroke-width':1.3},gLab);
  const tt=tx(l[2],lx,ly+6,{'font-size':17,'text-anchor':'middle',fill:'#222'},gLab);
  
});
const gPts=grp('facet-points',gC);
[3,2,1,0].forEach(lv=>{facetPoints.forEach(p=>{if(p[4]!==lv)return;const c=mk('circle',{cx:fx(p[1],p[2]),cy:fy(p[0],p[3]),r:8.5,fill:colC[lv]},gPts);});});
const gLC=grp('panel-c-legend',gC);
tx('Significance Level',993,3762,{'font-size':19,fill:'#222'},gLC);
[[1200,colC[0],'Bonferroni (alpha=0.01)'],[1454,colC[1],'Bonferroni (alpha=0.05)'],[1708,colC[2],'Genome-wide significance'],[1977,colC[3],'Suggestive significance']].forEach(s=>{const c=mk('circle',{cx:s[0],cy:3756,r:8,fill:s[1]},gLC);tx(s[2],s[0]+22,3762,{'font-size':16,fill:'#222'},gLC);});
</script>
</body></html>
